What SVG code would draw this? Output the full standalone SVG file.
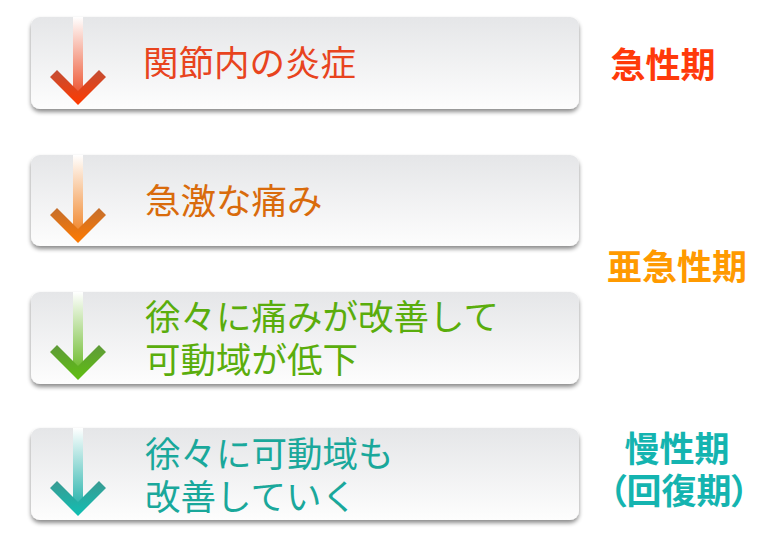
<svg xmlns="http://www.w3.org/2000/svg" width="760" height="545" viewBox="0 0 760 545">
<defs>
<linearGradient id="box" x1="0" y1="0" x2="0" y2="1">
<stop offset="0" stop-color="#e5e6e8"/>
<stop offset="1" stop-color="#fdfdfd"/>
</linearGradient>
<filter id="sh" x="-5%" y="-10%" width="110%" height="130%">
<feDropShadow dx="0" dy="3" stdDeviation="2" flood-color="#000" flood-opacity="0.45"/>
</filter>
<linearGradient id="s1" x1="0" y1="0" x2="0" y2="1"><stop offset="0" stop-color="#fff"/><stop offset="1" stop-color="#ec4a24"/></linearGradient>
<linearGradient id="h1" x1="0" y1="0" x2="0" y2="1"><stop offset="0" stop-color="#c24e35"/><stop offset="1" stop-color="#ff3a00"/></linearGradient>
<linearGradient id="s2" x1="0" y1="0" x2="0" y2="1"><stop offset="0" stop-color="#fff"/><stop offset="1" stop-color="#f08020"/></linearGradient>
<linearGradient id="h2" x1="0" y1="0" x2="0" y2="1"><stop offset="0" stop-color="#c46f2e"/><stop offset="1" stop-color="#ff7a00"/></linearGradient>
<linearGradient id="s3" x1="0" y1="0" x2="0" y2="1"><stop offset="0" stop-color="#fff"/><stop offset="1" stop-color="#66b822"/></linearGradient>
<linearGradient id="h3" x1="0" y1="0" x2="0" y2="1"><stop offset="0" stop-color="#5f9a3a"/><stop offset="1" stop-color="#5fbf10"/></linearGradient>
<linearGradient id="s4" x1="0" y1="0" x2="0" y2="1"><stop offset="0" stop-color="#fff"/><stop offset="1" stop-color="#1eb0a8"/></linearGradient>
<linearGradient id="h4" x1="0" y1="0" x2="0" y2="1"><stop offset="0" stop-color="#3a9a92"/><stop offset="1" stop-color="#10bfb3"/></linearGradient>
</defs>
<style>
.bx{fill:url(#box);filter:url(#sh)}
.t{font-family:"Noto Sans CJK JP","Noto Sans CJK SC",sans-serif;font-size:35.5px}
.lb{font-family:"Noto Sans CJK JP","Noto Sans CJK SC",sans-serif;font-size:35px;font-weight:bold}
.p{font-feature-settings:"palt"}
</style>
<g id="step1">
<rect class="bx" x="31" y="17" width="548" height="92" rx="9"/>
<rect x="73" y="17" width="10" height="82" fill="url(#s1)"/>
<polygon points="50,77 57,70 78,91 99,70 106,77 78,105" fill="url(#h1)"/>
<text class="t" x="143" y="76" fill="#e8441e">関節内の炎症</text>
</g>
<g id="step2">
<rect class="bx" x="31" y="155" width="548" height="91" rx="9"/>
<rect x="73" y="155" width="10" height="82" fill="url(#s2)"/>
<polygon points="50,215 57,208 78,229 99,208 106,215 78,243" fill="url(#h2)"/>
<text class="t" x="145" y="214" fill="#d96b0c">急激な痛み</text>
</g>
<g id="step3">
<rect class="bx" x="31" y="292" width="548" height="92" rx="9"/>
<rect x="73" y="292" width="10" height="82" fill="url(#s3)"/>
<polygon points="50,352 57,345 78,366 99,345 106,352 78,380" fill="url(#h3)"/>
<text class="t" x="145" y="330" fill="#5aad0c">徐々に痛みが改善して</text>
<text class="t" x="145" y="373" fill="#5aad0c">可動域が低下</text>
</g>
<g id="step4">
<rect class="bx" x="31" y="428" width="548" height="92" rx="9"/>
<rect x="73" y="428" width="10" height="82" fill="url(#s4)"/>
<polygon points="50,488 57,481 78,502 99,481 106,488 78,516" fill="url(#h4)"/>
<text class="t" x="145" y="467" fill="#1aa89b">徐々に可動域も</text>
<text class="t" x="145" y="510" fill="#1aa89b">改善していく</text>
</g>
<g id="labels">
<text class="lb" x="663" y="78" text-anchor="middle" fill="#ff3a0a">急性期</text>
<text class="lb" x="677" y="280" text-anchor="middle" fill="#ff9a00">亜急性期</text>
<text class="lb" x="677" y="462" text-anchor="middle" fill="#14b4b0">慢性期</text>
<text class="lb p" x="679" y="504" text-anchor="middle" fill="#14b4b0">（回復期）</text>
</g>
</svg>
